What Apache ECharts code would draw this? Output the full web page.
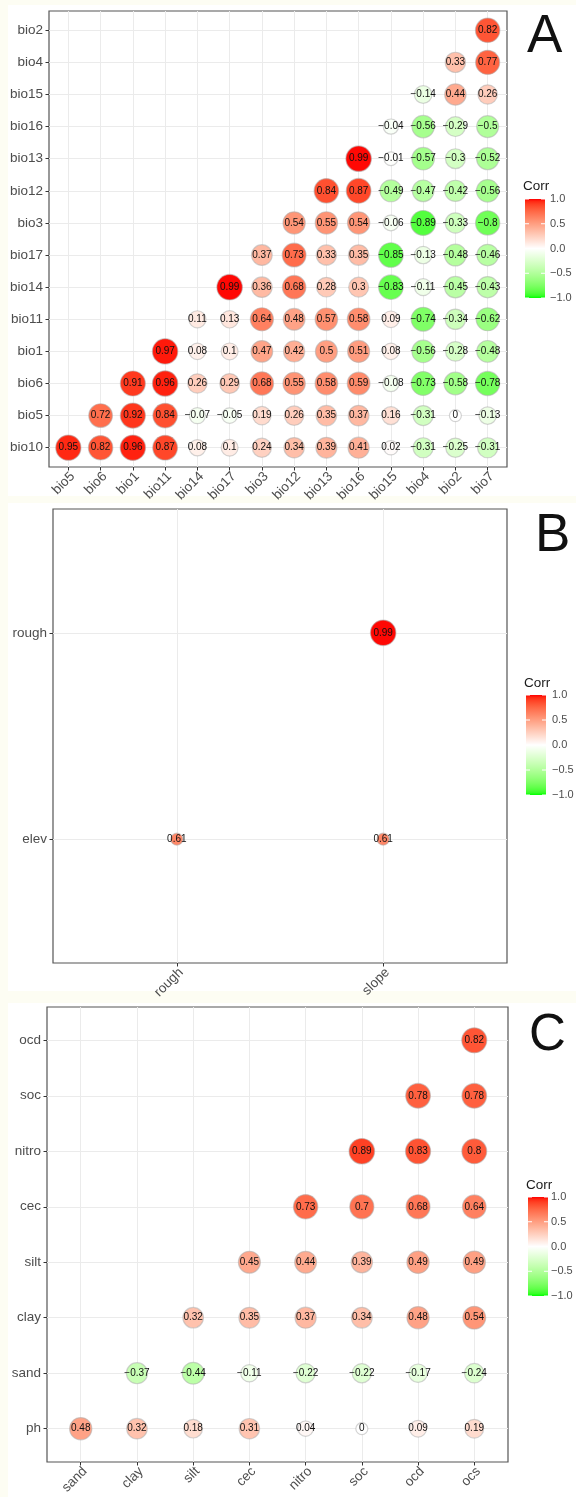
<!DOCTYPE html>
<html><head><meta charset="utf-8">
<script src="https://cdn.jsdelivr.net/npm/echarts@6/dist/echarts.min.js"></script>
<style>html,body{margin:0;padding:0;background:#fff}#chart{width:576px;height:1497px}</style>
</head><body><div id="chart"></div>
<script>
// ---------- Panel A (bioclim) ----------
const xLabelsA = ['bio5','bio6','bio1','bio11','bio14','bio17','bio3','bio12','bio13','bio16','bio15','bio4','bio2','bio7'];
const yLabelsA = ['bio10','bio5','bio6','bio1','bio11','bio14','bio17','bio3','bio12','bio13','bio16','bio15','bio4','bio2']; // bottom -> top
// row i (yLabelsA[i]) holds values for columns i .. end
const corrA = [
  [0.95, 0.82, 0.96, 0.87, 0.08, 0.1, 0.24, 0.34, 0.39, 0.41, 0.02, -0.31, -0.25, -0.31],
  [0.72, 0.92, 0.84, -0.07, -0.05, 0.19, 0.26, 0.35, 0.37, 0.16, -0.31, 0, -0.13],
  [0.91, 0.96, 0.26, 0.29, 0.68, 0.55, 0.58, 0.59, -0.08, -0.73, -0.58, -0.78],
  [0.97, 0.08, 0.1, 0.47, 0.42, 0.5, 0.51, 0.08, -0.56, -0.28, -0.48],
  [0.11, 0.13, 0.64, 0.48, 0.57, 0.58, 0.09, -0.74, -0.34, -0.62],
  [0.99, 0.36, 0.68, 0.28, 0.3, -0.83, -0.11, -0.45, -0.43],
  [0.37, 0.73, 0.33, 0.35, -0.85, -0.13, -0.48, -0.46],
  [0.54, 0.55, 0.54, -0.06, -0.89, -0.33, -0.8],
  [0.84, 0.87, -0.49, -0.47, -0.42, -0.56],
  [0.99, -0.01, -0.57, -0.3, -0.52],
  [-0.04, -0.56, -0.29, -0.5],
  [-0.14, 0.44, 0.26],
  [0.33, 0.77],
  [0.82]
];
// ---------- Panel B (topography) ----------
const xLabelsB = ['rough','slope'];
const yLabelsB = ['elev','rough'];
const corrB = [
  [0.61, 0.61],
  [0.99]
];
// ---------- Panel C (soil) ----------
const xLabelsC = ['sand','clay','silt','cec','nitro','soc','ocd','ocs'];
const yLabelsC = ['ph','sand','clay','silt','cec','nitro','soc','ocd'];
const corrC = [
  [0.48, 0.32, 0.18, 0.31, 0.04, 0, 0.09, 0.19],
  [-0.37, -0.44, -0.11, -0.22, -0.22, -0.17, -0.24],
  [0.32, 0.35, 0.37, 0.34, 0.48, 0.54],
  [0.45, 0.44, 0.39, 0.49, 0.49],
  [0.73, 0.7, 0.68, 0.64],
  [0.89, 0.83, 0.8],
  [0.78, 0.78],
  [0.82]
];
const legendBreaks = [1, 0.5, 0, -0.5, -1];
const legendTexts = ['1.0', '0.5', '0.0', '\u22120.5', '\u22121.0'];
const panelTags = ['A', 'B', 'C'];

// ---------- colour (Lab interpolation like ggplot gradient2) ----------
function toLin(c){c/=255;return c<=0.04045?c/12.92:Math.pow((c+0.055)/1.055,2.4);}
function fromLin(c){c=Math.max(0,Math.min(1,c));return Math.round((c<=0.0031308?12.92*c:1.055*Math.pow(c,1/2.4)-0.055)*255);}
const WX=0.95047, WY=1, WZ=1.08883;
function ff(t){return t>0.008856?Math.cbrt(t):(7.787*t+16/116);}
function fi(t){return t>0.206893?t*t*t:(t-16/116)/7.787;}
function hex2lab(h){const r=toLin(parseInt(h.slice(1,3),16)),g=toLin(parseInt(h.slice(3,5),16)),b=toLin(parseInt(h.slice(5,7),16));
  const X=(0.4124*r+0.3576*g+0.1805*b)/WX, Y=(0.2126*r+0.7152*g+0.0722*b)/WY, Z=(0.0193*r+0.1192*g+0.9505*b)/WZ;
  const fx=ff(X),fy=ff(Y),fz=ff(Z); return [116*fy-16,500*(fx-fy),200*(fy-fz)];}
function lab2hex(l){const fy=(l[0]+16)/116,fx=fy+l[1]/500,fz=fy-l[2]/200; const X=fi(fx)*WX,Y=fi(fy)*WY,Z=fi(fz)*WZ;
  const r=3.2406*X-1.5372*Y-0.4986*Z,g=-0.9689*X+1.8758*Y+0.0415*Z,b=0.0557*X-0.2040*Y+1.0570*Z;
  return '#'+[r,g,b].map(c=>fromLin(c).toString(16).padStart(2,'0')).join('');}
const LOW = hex2lab('#00ff00'), MID = hex2lab('#ffffff'), HIGH = hex2lab('#ff0000');
function colorAt(v){
  const a = v < 0 ? LOW : MID, b = v < 0 ? MID : HIGH, u = v < 0 ? v + 1 : v;
  return lab2hex([0,1,2].map(i => a[i] + (b[i]-a[i])*u));
}
const stops = [];
for (let k = 0; k <= 40; k++) stops.push(colorAt(-1 + k*0.05));

// ---------- helpers ----------
const FONT = '"Liberation Sans", Arial, sans-serif';
function toData(rows){
  const d = [];
  rows.forEach((row, i) => row.forEach((v, k) => d.push([i + k, i, v])));
  return d;
}
function fmt(v){ return v < 0 ? '\u2212' + Math.abs(v) : String(v); }
function range(n){ return Array.from({length:n}, (_, i) => i); }

const panels = [
  {x: xLabelsA, y: yLabelsA, rows: corrA, grid: {left:49, top:11, width:458, height:456},
   leg: {x:525, cy:186, top:199, h:99, lx:550}, tag: {x:527, y:37, size:53}, font:13.5},
  {x: xLabelsB, y: yLabelsB, rows: corrB, grid: {left:53, top:509, width:454, height:454},
   leg: {x:526, cy:683, top:695, h:100, lx:552}, tag: {x:535, y:536, size:53}, font:13.5},
  {x: xLabelsC, y: yLabelsC, rows: corrC, grid: {left:47, top:1007, width:461, height:461},
   leg: {x:528, cy:1185, top:1197, h:99, lx:551}, tag: {x:529, y:1036, size:51}, font:13.5}
];

const grids = [], xAxes = [], yAxes = [], series = [], graphics = [];
// page background panels
graphics.push({type:'rect', z:-100, shape:{x:8,y:5,width:568,height:491}, style:{fill:'#ffffff'}});
graphics.push({type:'rect', z:-100, shape:{x:8,y:503,width:568,height:488}, style:{fill:'#ffffff'}});
graphics.push({type:'rect', z:-100, shape:{x:8,y:1003,width:568,height:494}, style:{fill:'#ffffff'}});

panels.forEach((p, gi) => {
  grids.push(Object.assign({show:true, borderColor:'#555', borderWidth:1.2, backgroundColor:'#fff'}, p.grid));
  const nx = p.x.length, ny = p.y.length;
  xAxes.push({
    type:'value', gridIndex:gi, min:-0.6, max:nx-0.4, position:'bottom',
    axisLine:{show:false, onZero:false},
    axisTick:{show:true, customValues:range(nx), length:3.5, lineStyle:{color:'#333'}},
    splitLine:{show:true, lineStyle:{color:'#ebebeb', width:1}},
    axisLabel:{customValues:range(nx), rotate:45, margin:3,
      formatter: v => '{a|' + p.x[Math.round(v)] + '}',
      rich:{a:{fontFamily:FONT, fontSize:p.font, color:'#4d4d4d', padding:[12,0,0,0]}}}
  });
  yAxes.push({
    type:'value', gridIndex:gi, min:-0.6, max:ny-0.4, position:'left',
    axisLine:{show:false, onZero:false},
    axisTick:{show:true, customValues:range(ny), length:3.5, lineStyle:{color:'#333'}},
    splitLine:{show:true, lineStyle:{color:'#ebebeb', width:1}},
    axisLabel:{customValues:range(ny), margin:6, fontFamily:FONT, fontSize:p.font, color:'#4d4d4d',
      formatter: v => p.y[Math.round(v)]}
  });
  const data = toData(p.rows);
  const abs = data.map(d => Math.abs(d[2]));
  const mn = Math.min(...abs), mx = Math.max(...abs);
  series.push({
    type:'scatter', xAxisIndex:gi, yAxisIndex:gi, data:data,
    symbol:'circle',
    symbolSize: val => 12 + 13.5*Math.pow((Math.abs(val[2]) - mn)/(mx - mn), 0.45),
    itemStyle:{borderColor:'rgba(175,175,175,0.55)', borderWidth:1.2, opacity:1},
    label:{show:true, position:'inside', fontFamily:FONT, fontSize:10, color:'#111',
      formatter: prm => fmt(prm.value[2])},
    emphasis:{disabled:true}
  });
  // legend
  const L = p.leg;
  graphics.push({type:'text', style:{x:L.x-2, y:L.cy, text:'Corr', fontFamily:FONT, fontSize:13.5, fill:'#1a1a1a', textVerticalAlign:'middle'}});
  graphics.push({type:'rect', shape:{x:L.x, y:L.top, width:20, height:L.h},
    style:{fill:{type:'linear', x:0, y:0, x2:0, y2:1,
      colorStops: stops.map((c, k) => ({offset: 1 - k/40, color: c}))}}});
  legendBreaks.forEach((b, k) => {
    const yy = L.top + (1 - b)/2 * L.h;
    graphics.push({type:'line', shape:{x1:L.x, y1:yy, x2:L.x+4, y2:yy}, style:{stroke:'#fff', lineWidth:1}});
    graphics.push({type:'line', shape:{x1:L.x+16, y1:yy, x2:L.x+20, y2:yy}, style:{stroke:'#fff', lineWidth:1}});
    graphics.push({type:'text', style:{x:L.lx, y:yy, text:legendTexts[k], fontFamily:FONT, fontSize:11, fill:'#4d4d4d', textVerticalAlign:'middle'}});
  });
  graphics.push({type:'text', style:{x:p.tag.x, y:p.tag.y, text:panelTags[gi], fontFamily:FONT, fontSize:p.tag.size, fill:'#111', textVerticalAlign:'middle'}});
});

const chart = echarts.init(document.getElementById('chart'), null, {renderer:'canvas'});
chart.setOption({
  backgroundColor:'#fdfdf3',
  animation:false,
  grid: grids, xAxis: xAxes, yAxis: yAxes, series: series,
  visualMap: {type:'continuous', show:false, seriesIndex:[0,1,2], dimension:2, min:-1, max:1, inRange:{color:stops}},
  graphic: graphics
});
</script></body></html>
